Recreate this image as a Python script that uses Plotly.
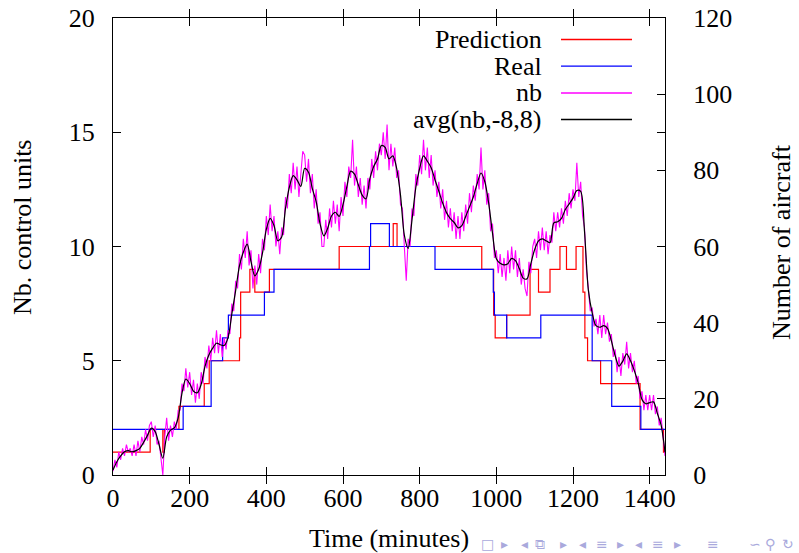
import plotly.graph_objects as go

# ---- data -------------------------------------------------------------
# Step series: start time of each level (minutes) and the level itself
pred_t = [0, 97, 130, 134, 172, 238, 251, 330, 333, 357, 370, 408, 590, 731, 741,
          962, 993, 997, 1027, 1088, 1110, 1140, 1166, 1183, 1208, 1226, 1231, 1238,
          1272, 1375, 1436]
pred_v = [1, 2, 1, 2, 3, 4, 5, 6, 8, 9, 8, 9, 10, 11, 10,
          9, 7, 6, 7, 9, 8, 9, 10, 9, 10, 8, 6, 5,
          4, 2, 1]

real_t = [0, 183, 256, 286, 301, 395, 420, 669, 672, 721, 840, 992, 995, 1027,
          1116, 1250, 1301, 1377]
real_v = [2, 3, 5, 6, 7, 8, 9, 10, 11, 10, 9, 8, 7, 6,
          7, 5, 3, 2]

T_END = 1440

# Number of aircraft, sampled every 5 minutes
nb_t = list(range(0, 1441, 5))
nb = [
    1, 4, 2, 6, 4, 7, 5, 8, 6, 7,
    5, 8, 5, 9, 6, 10, 8, 12, 9, 13,
    14, 10, 13, 8, 9, 4, 0, 10, 15, 9,
    13, 10, 14, 12, 17, 17, 24, 22, 28, 23,
    27, 21, 25, 19, 24, 20, 27, 24, 31, 28,
    34, 30, 36, 32, 38, 32, 37, 31, 36, 33,
    38, 37, 45, 43, 51, 49, 58, 54, 62, 57,
    64, 55, 59, 49, 55, 50, 58, 53, 62, 59,
    68, 63, 71, 64, 68, 60, 64, 58, 65, 63,
    73, 70, 79, 74, 82, 75, 81, 73, 79, 85,
    84, 77, 83, 74, 79, 70, 75, 66, 69, 60,
    60, 67, 62, 70, 65, 72, 66, 71, 64, 73,
    68, 77, 73, 81, 78, 88, 76, 81, 73, 78,
    71, 76, 70, 78, 75, 83, 78, 85, 80, 87,
    84, 90, 83, 92, 80, 87, 81, 86, 78, 80,
    71, 70, 60, 51, 62, 60, 70, 68, 79, 76,
    84, 79, 88, 80, 86, 78, 84, 76, 80, 73,
    77, 70, 75, 67, 72, 65, 70, 64, 69, 62,
    68, 62, 69, 64, 71, 66, 74, 69, 76, 72,
    79, 75, 86, 75, 80, 71, 74, 64, 66, 57,
    59, 53, 58, 52, 57, 51, 59, 53, 60, 54,
    59, 52, 57, 50, 54, 49, 47, 56, 53, 60,
    62, 57, 64, 59, 65, 59, 64, 58, 63, 61,
    69, 64, 69, 65, 70, 66, 72, 68, 74, 70,
    75, 72, 82, 73, 77, 68, 65, 54, 49, 43,
    44, 39, 41, 37, 42, 36, 42, 37, 40, 35,
    37, 31, 33, 27, 31, 26, 32, 29, 35, 28,
    32, 27, 30, 24, 26, 20, 22, 17, 21, 17,
    21, 17, 21, 16, 18, 13, 15, 9, 5,
]

# Running average avg(nb,-8,8), every 10 minutes
avg_t = list(range(0, 1441, 10))
avg = [
    1.3, 3.5, 5.0, 6.1, 6.4, 6.1, 6.4, 7.0, 8.6, 10.4,
    12.3, 11.4, 8.0, 4.4, 10.0, 11.8, 12.4, 15.0, 21.5, 25.2,
    24.0, 22.0, 21.6, 23.8, 28.5, 31.5, 33.3, 34.6, 34.2, 34.0,
    36.0, 42.3, 48.5, 55.0, 58.5, 60.6, 56.0, 52.3, 54.0, 58.3,
    64.5, 67.4, 65.5, 61.5, 62.5, 70.0, 75.5, 78.6, 77.5, 75.8,
    80.5, 79.5, 75.2, 71.8, 66.0, 62.8, 64.8, 68.0, 69.0, 67.9,
    71.0, 75.7, 79.8, 79.0, 76.2, 73.5, 72.5, 77.8, 81.0, 83.0,
    86.5, 86.0, 83.0, 83.8, 80.5, 73.5, 63.0, 59.5, 67.0, 75.5,
    80.5, 83.8, 82.4, 80.7, 77.5, 74.5, 71.4, 68.9, 67.3, 66.3,
    64.9, 65.5, 67.9, 70.4, 73.0, 76.5, 79.3, 77.0, 71.4, 63.5,
    56.8, 55.6, 55.2, 55.5, 56.9, 56.3, 54.2, 51.7, 51.5, 55.5,
    59.2, 61.5, 62.0, 61.5, 61.0, 66.2, 66.5, 67.4, 69.7, 71.2,
    72.7, 74.7, 74.5, 64.0, 48.6, 42.6, 39.2, 38.8, 39.2, 38.5,
    35.3, 31.3, 28.6, 29.9, 31.8, 30.0, 27.4, 24.2, 19.8, 18.7,
    19.0, 19.2, 16.2, 13.0, 6.0,
]

x_ticks = [0, 200, 400, 600, 800, 1000, 1200, 1400]
y_ticks = [0, 5, 10, 15, 20]
y2_ticks = [0, 20, 40, 60, 80, 100, 120]

series_names = ["Prediction", "Real", "nb", "avg(nb,-8,8)"]
series_colors = ["#ff0000", "#0000ff", "#ff00ff", "#000000"]

# ---- layout geometry (pixels) -----------------------------------------
W, H = 799, 553
ML, MR, MT, MB = 113, 134, 18, 78
PW, PH = W - ML - MR, H - MT - MB
FONT = "Liberation Serif, Times New Roman, serif"
FS = 26


def fx(x):
    return (x - ML) / PW


def fy(y):
    return (H - MB - y) / PH


fig = go.Figure()

fig.add_trace(go.Scatter(x=pred_t + [T_END], y=pred_v + [pred_v[-1]], mode="lines",
                         line=dict(color=series_colors[0], width=1.2, shape="hv"),
                         name=series_names[0]))
fig.add_trace(go.Scatter(x=real_t + [T_END], y=real_v + [real_v[-1]], mode="lines",
                         line=dict(color=series_colors[1], width=1.2, shape="hv"),
                         name=series_names[1]))
fig.add_trace(go.Scatter(x=nb_t, y=nb, mode="lines", yaxis="y2",
                         line=dict(color=series_colors[2], width=1.1),
                         name=series_names[2]))
fig.add_trace(go.Scatter(x=avg_t, y=avg, mode="lines", yaxis="y2",
                         line=dict(color=series_colors[3], width=1.2, shape="spline",
                                   smoothing=0.8),
                         name=series_names[3]))

# key samples: short lines on a hidden pixel-unit overlay (x from left edge,
# y from top edge of the plotting area)
key_rows = [39.5, 66.2, 93.0, 119.5]
for name, col, ry in zip(series_names, series_colors, key_rows):
    fig.add_trace(go.Scatter(x=[561 - ML, 632 - ML], y=[ry - MT, ry - MT],
                             mode="lines", xaxis="x2", yaxis="y3",
                             line=dict(color=col, width=1.3),
                             hoverinfo="skip", name=name + " key"))

axis_common = dict(showgrid=False, zeroline=False, showline=True, linecolor="black",
                   linewidth=1, ticks="inside", ticklen=8, tickcolor="black",
                   automargin=False,
                   tickfont=dict(family=FONT, size=FS, color="black"))

fig.update_layout(
    width=W, height=H,
    margin=dict(l=ML, r=MR, t=MT, b=MB, pad=0, autoexpand=False),
    paper_bgcolor="white", plot_bgcolor="white",
    showlegend=False,
    xaxis=dict(range=[0, T_END], tickvals=x_ticks, mirror="allticks",
               ticklabelstandoff=0, **axis_common),
    yaxis=dict(range=[0, 20], tickvals=y_ticks, mirror="allticks",
               ticklabelstandoff=12, **axis_common),
    yaxis2=dict(range=[0, 120], tickvals=y2_ticks, overlaying="y", side="right",
                ticklabelstandoff=22, **axis_common),
    xaxis2=dict(range=[0, PW], overlaying="x", visible=False, automargin=False),
    yaxis3=dict(range=[PH, 0], overlaying="y", visible=False, automargin=False),
)

ann = []
# axis titles
ann.append(dict(text="Time (minutes)", x=fx(389), y=fy(538), xref="paper", yref="paper",
                showarrow=False, xanchor="center", yanchor="middle",
                font=dict(family=FONT, size=FS, color="black")))
ann.append(dict(text="Nb. control units", x=fx(22), y=fy(227), xref="paper", yref="paper",
                showarrow=False, textangle=-90, xanchor="center", yanchor="middle",
                font=dict(family=FONT, size=FS, color="black")))
ann.append(dict(text="Number of aircraft", x=fx(781), y=fy(242), xref="paper", yref="paper",
                showarrow=False, textangle=-90, xanchor="center", yanchor="middle",
                font=dict(family=FONT, size=FS, color="black")))

# key labels, right-aligned in front of the samples
for name, ry in zip(series_names, key_rows):
    ann.append(dict(text=name, x=fx(544), y=fy(ry), xref="paper", yref="paper",
                    showarrow=False, xanchor="right", yanchor="middle",
                    font=dict(family=FONT, size=FS, color="black")))

# slide navigation symbols along the bottom edge
nav = [("□", 487), ("▸", 504), ("◂", 524), ("⧉", 540), ("▸", 563), ("◂", 582),
       ("≡", 602), ("▸", 620), ("◂", 638), ("≡", 658), ("▸", 677), ("≡", 713),
       ("∽", 755), ("⚲", 770), ("↻", 788)]
for g, gx in nav:
    ann.append(dict(text=g, x=fx(gx), y=fy(544), xref="paper", yref="paper",
                    showarrow=False, xanchor="center", yanchor="middle",
                    font=dict(family="DejaVu Sans", size=14, color="#a9a9dc")))

fig.update_layout(annotations=ann)

fig.write_html("out.html", config={"displayModeBar": False})
